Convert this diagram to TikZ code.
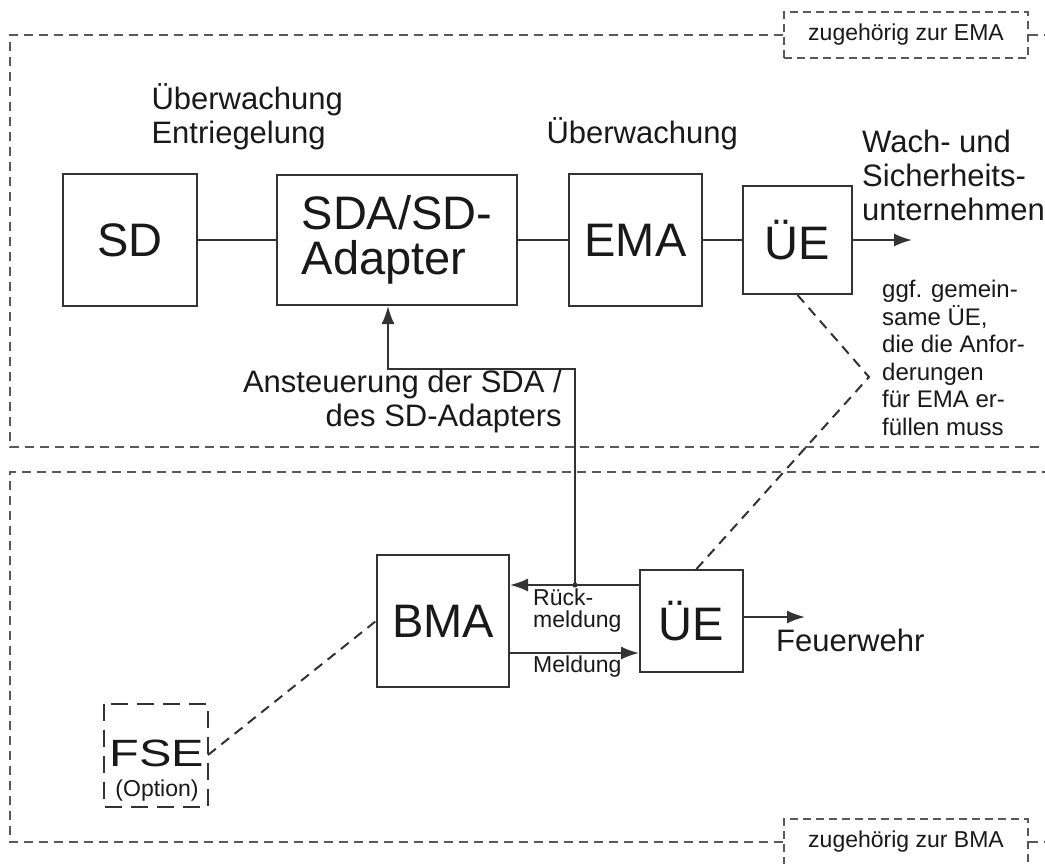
\documentclass[tikz,border=0pt]{standalone}
\usepackage{fontspec}
\setmainfont{Liberation Sans}
\usetikzlibrary{positioning, arrows.meta}
\definecolor{linegray}{rgb}{0.2, 0.2, 0.2}
\definecolor{dashgray}{rgb}{0.35, 0.35, 0.35}
\newcommand{\fsBlock}{\fontsize{47}{45}\selectfont}
\newcommand{\fsLabel}{\fontsize{31}{34}\selectfont}
\newcommand{\fsNote}{\fontsize{24}{27.5}\selectfont}
\newcommand{\fsTiny}{\fontsize{23}{22}\selectfont}
\tikzset{%
  block/.style={
    rectangle,
    draw=linegray,
    line width=2pt,
    inner sep=0pt,
    font=\fsBlock
  },
  tagbox/.style={
    draw=dashgray,
    line width=2pt,
    dash pattern=on 8pt off 5pt,
    minimum width=244pt,
    minimum height=46pt,
    font=\fsTiny
  },
  region/.style={draw=dashgray, line width=2.5pt, dash pattern=on 9pt off 6pt},
  link/.style={draw=linegray, line width=2pt, dash pattern=on 10pt off 7pt},
  wire/.style={draw=linegray, line width=2pt},
  arr/.style={wire, -{Latex[length=18pt, width=13pt]}}
}

\begin{document}
\begin{tikzpicture}[x=1pt, y=-1pt, text=black!90]
		\clip (0,0) rectangle (1045,863);
		\fill[white] (0,0) rectangle (1045,863);
		% EMA side
		\node[tagbox] (tagema) at (906,35) {zugehörig zur EMA};
		\draw[region] (tagema.west) -- (10,35) -- (10,447) -- (1045,447);
		\draw[region] (tagema.east) -- (1045,35);
		\node[block, minimum width=134pt, minimum height=132pt] (sd) at (130,240) {SD};
		\node[block, minimum width=240pt, minimum height=130pt, align=left] (sda) at (397,240) {SDA/SD-\\Adapter};
		\node[block, minimum width=133pt, minimum height=132pt] (ema) at (635.5,240) {EMA};
		\node[block, minimum width=109pt, minimum height=108pt] (ue) at (797.5,240) {ÜE};
		\coordinate (wach) at (912,240);
		\draw[wire] (sd) -- (sda);
		\draw[wire] (sda) -- (ema);
		\draw[wire] (ema) -- (ue);
		\draw[arr] (ue) -- (wach);
		\node[font=\fsLabel, align=left, anchor=west] (lblsda) at (148,117) {Überwachung\\Entriegelung};
		\node[font=\fsLabel, anchor=west] (lblema) at (543,134) {Überwachung};
		\node[font=\fsLabel, align=left, anchor=west, inner sep=0pt] (lblwach) at (862,175) {Wach- und\\Sicherheits-\\unternehmen};
		\node[font=\fsNote, align=left, anchor=west, inner sep=0pt] (lblgem) at (882,358) {ggf. gemein-\\same ÜE,\\die die Anfor-\\derungen\\für EMA er-\\füllen muss};
		% BMA side
		\node[tagbox] (tagbma) at (906,842) {zugehörig zur BMA};
		\draw[region] (tagbma.west) -- (10,842) -- (10,472) -- (1045,472);
		\draw[region] (tagbma.east) -- (1045,842);
		\node[block, minimum width=132pt, minimum height=132pt] (bma) at (443,621) {BMA};
		\node[block, minimum width=103pt, minimum height=102pt] (ueb) at (691.5,621) {ÜE};
		\node[block, draw=none, minimum width=102pt, minimum height=101pt] (fse) at (156,755) {};
		\draw[wire, dash pattern=on 17pt off 9pt] (fse.north west) rectangle (fse.south east);
		\node[font=\fontsize{38}{30}\selectfont, anchor=base, inner sep=0pt] (fsetext) at (157,766) {\scalebox{1.28}[1]{FSE}};
		\node[font=\fontsize{23}{23}\selectfont, anchor=base, inner sep=0pt] (fseopt) at (157,796) {(Option)};
		\coordinate (junc) at (575,585);
		\coordinate (meld) at (575,653);
		\coordinate (ctrl) at (388,369);
		\coordinate (feuer) at (805,617);
		\draw[arr] (junc -| ueb.west) -- (junc -| bma.east);
		\draw[arr] (meld -| bma.east) -- (meld -| ueb.west);
		\draw[arr] (feuer -| ueb.east) -- (feuer);
		\fill[linegray] (junc) circle (2.5pt);
		\draw[arr] (junc) |- (ctrl) -- (ctrl |- sda.south);
		\node[font=\fsLabel, align=right, anchor=east, inner sep=0pt] (lblctrl) at (562,401) {Ansteuerung der SDA /\\des SD-Adapters};
		\node[font=\fsTiny, align=left, anchor=west, inner sep=0pt] (lblrueck) at (533,611) {Rück-\\meldung};
		\node[font=\fsTiny, anchor=west, inner sep=0pt] (lblmeld) at (533,667) {Meldung};
		\node[font=\fsLabel, anchor=west, inner sep=0pt] (lblfw) at (776,640) {Feuerwehr};
		% optional links
		\coordinate (kink) at (869,377);
		\draw[link] (fse.east) -- (bma.west);
		\draw[link] (ue.south) -- (kink) -- ([xshift=5pt]ueb.north);
	\end{tikzpicture}
\end{document}
